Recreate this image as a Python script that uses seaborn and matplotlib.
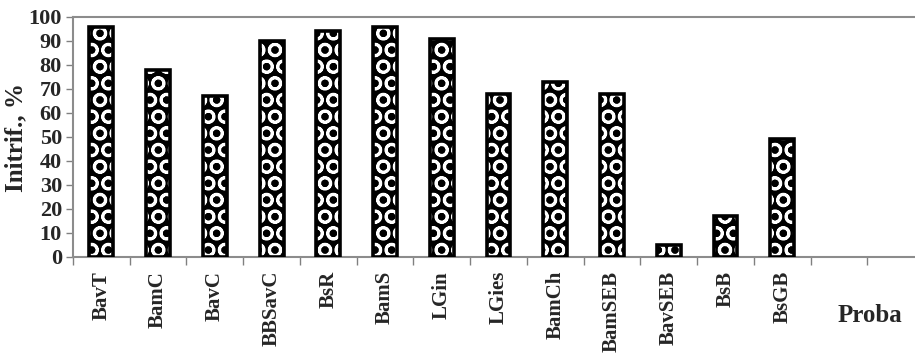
import matplotlib
matplotlib.use("Agg")
import matplotlib.pyplot as plt
import seaborn as sns
import pandas as pd
from matplotlib.ticker import FixedLocator

categories = ["BavT", "BamC", "BavC", "BBSavC", "BsR", "BamS", "LGin", "LGies",
              "BamCh", "BamSEB", "BavSEB", "BsB", "BsGB"]
values = [96, 78, 67, 90, 94, 96, 91, 68, 73, 68, 5, 17, 49]
yticks = list(range(0, 101, 10))
n_slots = 15

sns.set_style("white")
plt.rcParams["font.family"] = ["Liberation Serif", "DejaVu Serif"]
plt.rcParams["font.weight"] = "bold"
plt.rcParams["hatch.linewidth"] = 2.0

df = pd.DataFrame({"cat": categories, "val": values})

fig = plt.figure(figsize=(9.15, 3.53), dpi=100)
ax = fig.add_axes([73 / 915, 1 - 257 / 353, 1 - 73 / 915 + 0.01, (257 - 17) / 353])

sns.barplot(data=df, x="cat", y="val", order=categories, color="black",
            width=0.42, ax=ax, saturation=1)
bars = list(ax.patches)
for p in bars:
    p.set_facecolor("black")
    p.set_edgecolor("white")
    p.set_hatch("O")
    p.set_linewidth(0)
    r = plt.Rectangle((p.get_x(), p.get_y()), p.get_width(), p.get_height(),
                      fill=False, edgecolor="black", linewidth=2.6, zorder=3)
    ax.add_patch(r)

ax.set_xlim(-0.5, n_slots - 0.5)
ax.set_ylim(0, 100)
ax.set_yticks(yticks)
ax.set_yticklabels([str(v) for v in yticks], fontsize=16, fontweight="bold")
ax.set_xticks(range(len(categories)))
ax.set_xticklabels(categories, rotation=90, fontsize=15, fontweight="bold")
ax.xaxis.set_minor_locator(FixedLocator([i - 0.5 for i in range(n_slots + 1)]))
ax.tick_params(axis="x", which="major", length=0, pad=10)
ax.tick_params(axis="x", which="minor", length=6, color="#808080", width=1, direction="out", bottom=True)
ax.tick_params(axis="y", length=5, color="#808080", width=1, direction="out", left=True, pad=3)
ax.set_xlabel("")
ax.set_ylabel("Initrif., %", fontsize=18, fontweight="bold", labelpad=1)

for s in ["left", "bottom", "top"]:
    ax.spines[s].set_visible(True)
    ax.spines[s].set_color("#8c8c8c")
    ax.spines[s].set_linewidth(1.5)
ax.spines["right"].set_visible(False)

fig.text(870 / 915, 1 - 316 / 353, "Proba", ha="center", va="center",
         fontsize=18, fontweight="bold")

fig.savefig("out.png", dpi=100)
